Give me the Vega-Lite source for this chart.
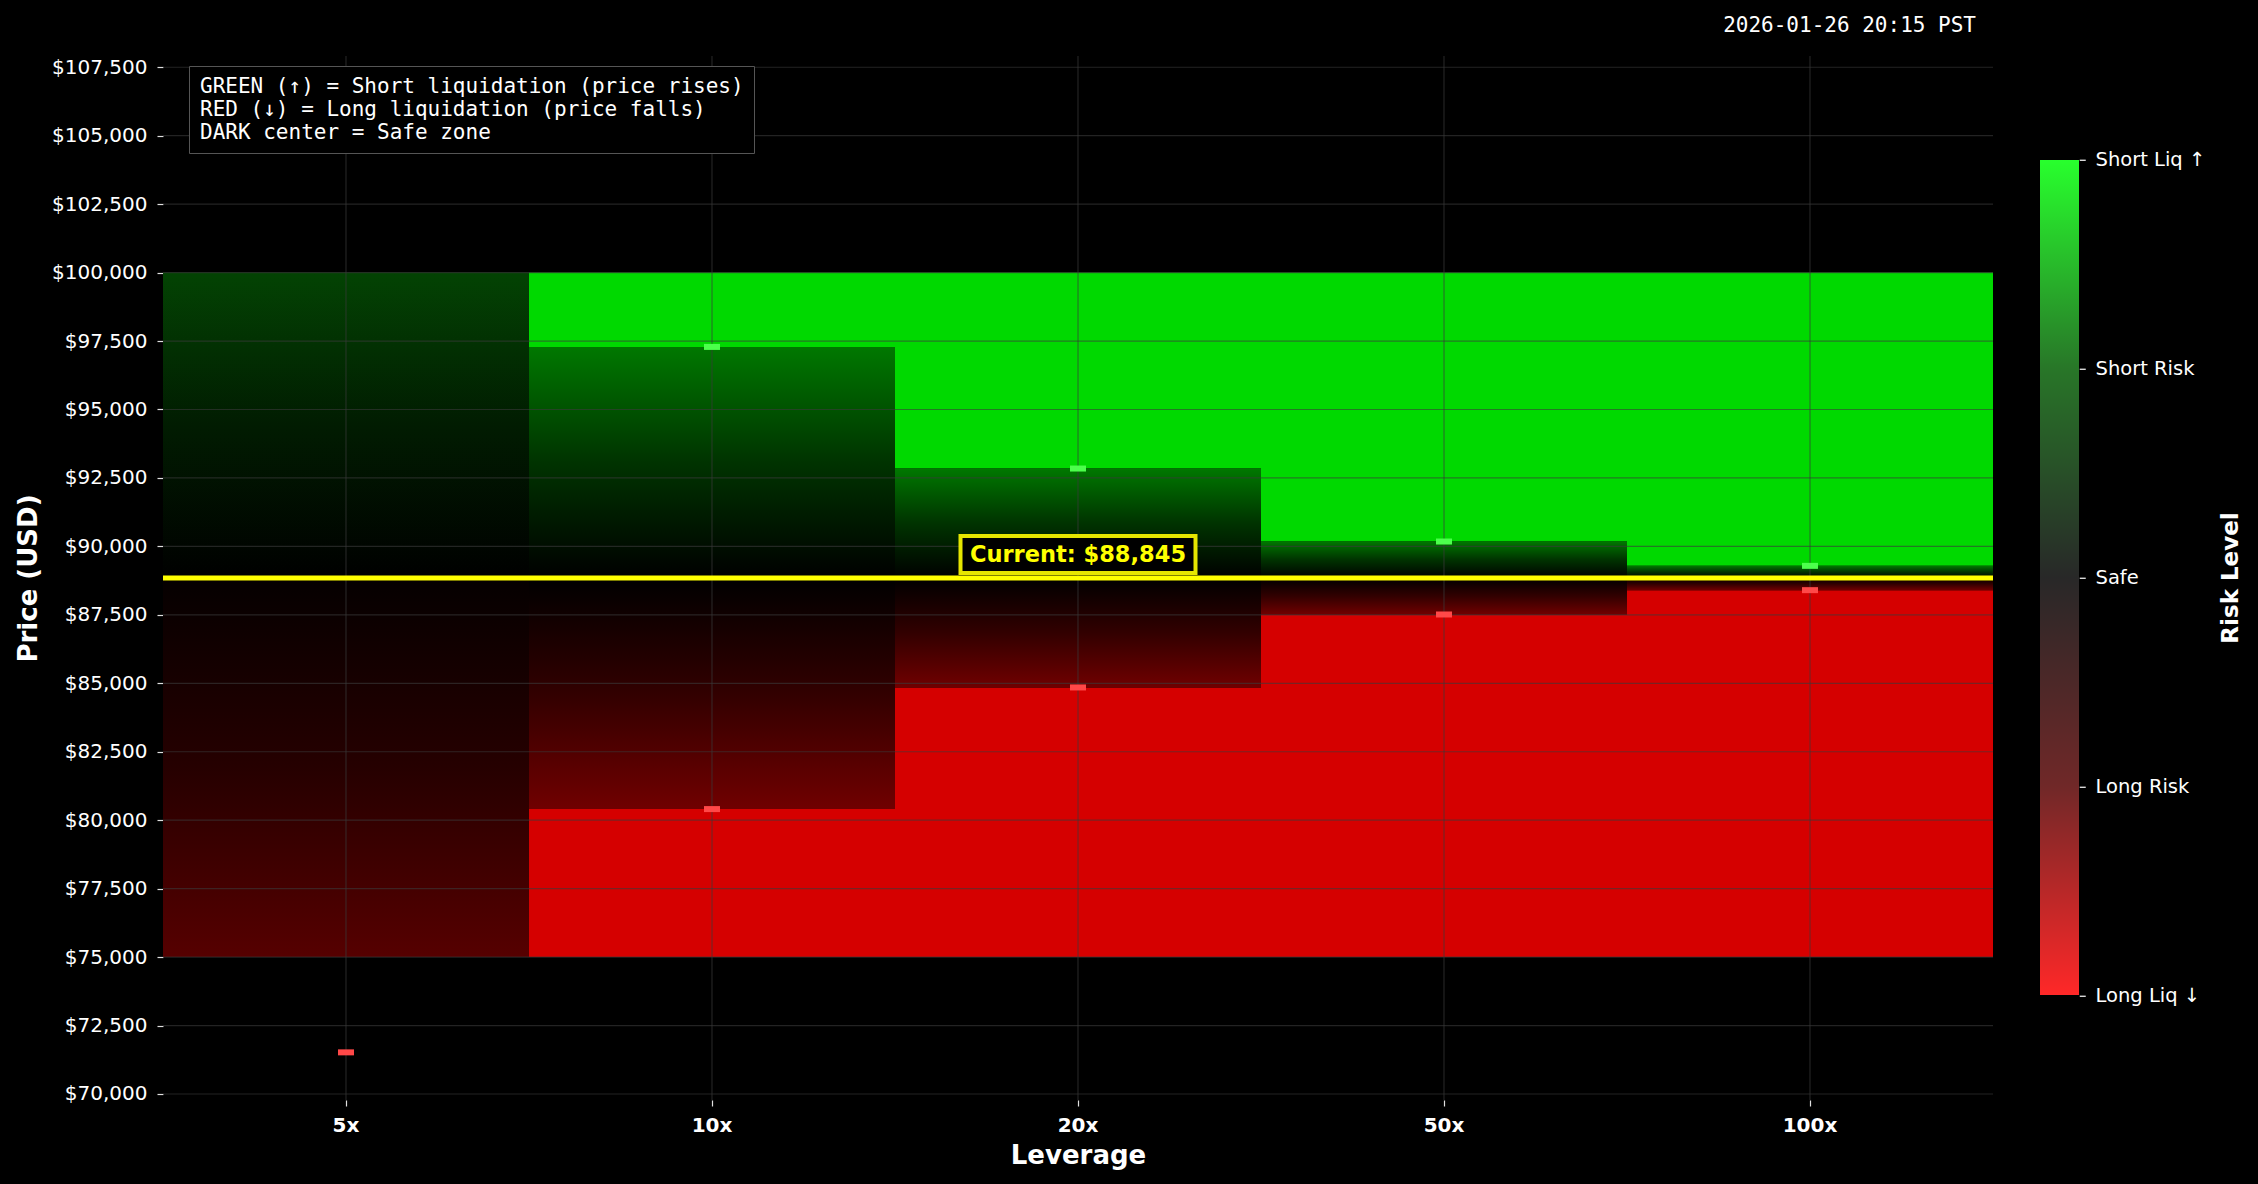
{
  "$schema": "https://vega.github.io/schema/vega-lite/v6.json",
  "width": 1830,
  "height": 1044,
  "autosize": {"type": "none"},
  "padding": {"left": 163, "top": 56, "right": 265, "bottom": 84},
  "background": "#000000",
  "title": {
    "text": "2026-01-26 20:15 PST",
    "anchor": "end",
    "frame": "group",
    "font": "DejaVu Sans Mono",
    "fontSize": 21,
    "fontWeight": "normal",
    "color": "#ffffff",
    "baseline": "alphabetic",
    "offset": 24,
    "dx": -17,
    "dy": 22
  },
  "datasets": {
    "zones": [
      {"lev": "5x", "zone": "short_risk", "price": 88845, "price2": 100000},
      {"lev": "5x", "zone": "long_risk", "price": 75000, "price2": 88845},
      {"lev": "10x", "zone": "short_liq", "price": 97285, "price2": 100000},
      {"lev": "10x", "zone": "short_risk", "price": 88845, "price2": 97285},
      {"lev": "10x", "zone": "long_risk", "price": 80405, "price2": 88845},
      {"lev": "10x", "zone": "long_liq", "price": 75000, "price2": 80405},
      {"lev": "20x", "zone": "short_liq", "price": 92843, "price2": 100000},
      {"lev": "20x", "zone": "short_risk", "price": 88845, "price2": 92843},
      {"lev": "20x", "zone": "long_risk", "price": 84847, "price2": 88845},
      {"lev": "20x", "zone": "long_liq", "price": 75000, "price2": 84847},
      {"lev": "50x", "zone": "short_liq", "price": 90178, "price2": 100000},
      {"lev": "50x", "zone": "short_risk", "price": 88845, "price2": 90178},
      {"lev": "50x", "zone": "long_risk", "price": 87512, "price2": 88845},
      {"lev": "50x", "zone": "long_liq", "price": 75000, "price2": 87512},
      {"lev": "100x", "zone": "short_liq", "price": 89289, "price2": 100000},
      {"lev": "100x", "zone": "short_risk", "price": 88845, "price2": 89289},
      {"lev": "100x", "zone": "long_risk", "price": 88401, "price2": 88845},
      {"lev": "100x", "zone": "long_liq", "price": 75000, "price2": 88401}
    ],
    "liq": [
      {"lev": "5x", "side": "short", "price": 106170},
      {"lev": "5x", "side": "long", "price": 71520},
      {"lev": "10x", "side": "short", "price": 97285},
      {"lev": "10x", "side": "long", "price": 80405},
      {"lev": "20x", "side": "short", "price": 92843},
      {"lev": "20x", "side": "long", "price": 84847},
      {"lev": "50x", "side": "short", "price": 90178},
      {"lev": "50x", "side": "long", "price": 87512},
      {"lev": "100x", "side": "short", "price": 89289},
      {"lev": "100x", "side": "long", "price": 88401}
    ],
    "current": [{"lev": "20x", "price": 88845, "label": "Current: $88,845"}],
    "ygrid": [
      {"price": 70000}, {"price": 72500}, {"price": 75000}, {"price": 77500},
      {"price": 80000}, {"price": 82500}, {"price": 85000}, {"price": 87500},
      {"price": 90000}, {"price": 92500}, {"price": 95000}, {"price": 97500},
      {"price": 100000}, {"price": 102500}, {"price": 105000}, {"price": 107500}
    ],
    "xgrid": [{"lev": "5x"}, {"lev": "10x"}, {"lev": "20x"}, {"lev": "50x"}, {"lev": "100x"}],
    "notes": [
      {"note": "GREEN (↑) = Short liquidation (price rises)"},
      {"note": "RED (↓) = Long liquidation (price falls)"},
      {"note": "DARK center = Safe zone"}
    ],
    "risk": [{"risk": -2}, {"risk": -1}, {"risk": 0}, {"risk": 1}, {"risk": 2}],
    "levels": [
      {"level": "Short Liq ↑"},
      {"level": "Short Risk"},
      {"level": "Safe"},
      {"level": "Long Risk"},
      {"level": "Long Liq ↓"}
    ]
  },
  "layer": [
    {
      "data": {"name": "zones"},
      "transform": [{"filter": "datum.zone === 'short_liq' || datum.zone === 'long_liq'"}],
      "mark": {"type": "rect"},
      "encoding": {
        "x": {
          "field": "lev",
          "type": "nominal",
          "title": "Leverage",
          "scale": {"domain": ["5x", "10x", "20x", "50x", "100x"], "paddingInner": 0, "paddingOuter": 0},
          "axis": {
            "title": "Leverage",
            "labelAngle": 0,
            "labelFontSize": 20,
            "labelFontWeight": "bold",
            "labelPadding": 9,
            "tickSize": 6,
            "titleFontSize": 26,
            "titleFontWeight": "bold",
            "titlePadding": 7
          }
        },
        "y": {
          "field": "price",
          "type": "quantitative",
          "title": "Price (USD)",
          "scale": {"domain": [69780, 107910], "nice": false, "zero": false},
          "axis": {
            "title": "Price (USD)",
            "values": [70000, 72500, 75000, 77500, 80000, 82500, 85000, 87500, 90000, 92500, 95000, 97500, 100000, 102500, 105000, 107500],
            "format": "$,.0f",
            "labelFontSize": 20,
            "labelPadding": 10,
            "tickSize": 6,
            "titleFontSize": 26,
            "titleFontWeight": "bold",
            "titlePadding": 10
          }
        },
        "y2": {"field": "price2"},
        "color": {"condition": {"test": "datum.zone === 'short_liq'", "value": "#00d900"}, "value": "#d50000"}
      }
    },
    {
      "data": {"name": "zones"},
      "transform": [{"filter": "datum.zone === 'short_risk' && datum.lev !== '5x'"}],
      "mark": {
        "type": "rect",
        "color": {
          "gradient": "linear", "x1": 0, "y1": 0, "x2": 0, "y2": 1,
          "stops": [
            {"offset": 0, "color": "#007800"},
            {"offset": 0.5, "color": "#003300"},
            {"offset": 1, "color": "#000000"}
          ]
        }
      },
      "encoding": {
        "x": {"field": "lev", "type": "nominal"},
        "y": {"field": "price", "type": "quantitative"},
        "y2": {"field": "price2"}
      }
    },
    {
      "data": {"name": "zones"},
      "transform": [{"filter": "datum.zone === 'short_risk' && datum.lev === '5x'"}],
      "mark": {
        "type": "rect",
        "color": {
          "gradient": "linear", "x1": 0, "y1": 0, "x2": 0, "y2": 1,
          "stops": [
            {"offset": 0, "color": "#034303"},
            {"offset": 0.5, "color": "#011c01"},
            {"offset": 1, "color": "#000000"}
          ]
        }
      },
      "encoding": {
        "x": {"field": "lev", "type": "nominal"},
        "y": {"field": "price", "type": "quantitative"},
        "y2": {"field": "price2"}
      }
    },
    {
      "data": {"name": "zones"},
      "transform": [{"filter": "datum.zone === 'long_risk' && datum.lev !== '5x'"}],
      "mark": {
        "type": "rect",
        "color": {
          "gradient": "linear", "x1": 0, "y1": 0, "x2": 0, "y2": 1,
          "stops": [
            {"offset": 0, "color": "#000000"},
            {"offset": 0.5, "color": "#320000"},
            {"offset": 1, "color": "#700000"}
          ]
        }
      },
      "encoding": {
        "x": {"field": "lev", "type": "nominal"},
        "y": {"field": "price", "type": "quantitative"},
        "y2": {"field": "price2"}
      }
    },
    {
      "data": {"name": "zones"},
      "transform": [{"filter": "datum.zone === 'long_risk' && datum.lev === '5x'"}],
      "mark": {
        "type": "rect",
        "color": {
          "gradient": "linear", "x1": 0, "y1": 0, "x2": 0, "y2": 1,
          "stops": [
            {"offset": 0, "color": "#050000"},
            {"offset": 0.5, "color": "#260000"},
            {"offset": 1, "color": "#560000"}
          ]
        }
      },
      "encoding": {
        "x": {"field": "lev", "type": "nominal"},
        "y": {"field": "price", "type": "quantitative"},
        "y2": {"field": "price2"}
      }
    },
    {
      "data": {"name": "ygrid"},
      "mark": {"type": "rule", "color": "#3a3a3a", "opacity": 0.6, "strokeWidth": 1.2},
      "encoding": {"y": {"field": "price", "type": "quantitative"}}
    },
    {
      "data": {"name": "xgrid"},
      "mark": {"type": "rule", "color": "#3a3a3a", "opacity": 0.6, "strokeWidth": 1.2},
      "encoding": {"x": {"field": "lev", "type": "nominal"}}
    },
    {
      "data": {"name": "current"},
      "mark": {"type": "rule", "color": "#ffff00", "strokeWidth": 5},
      "encoding": {"y": {"field": "price", "type": "quantitative"}}
    },
    {
      "data": {"name": "liq"},
      "mark": {
        "type": "point",
        "shape": "M-1,-0.375L1,-0.375L1,0.375L-1,0.375Z",
        "size": 256,
        "filled": true,
        "opacity": 1,
        "strokeWidth": 0
      },
      "encoding": {
        "x": {"field": "lev", "type": "nominal"},
        "y": {"field": "price", "type": "quantitative"},
        "color": {"condition": {"test": "datum.side === 'short'", "value": "#4cff4c"}, "value": "#ff4848"}
      }
    },
    {
      "data": {"name": "current"},
      "mark": {
        "type": "point",
        "shape": "M-1,-0.15745L1,-0.15745L1,0.15745L-1,0.15745Z",
        "size": 55225,
        "filled": false,
        "fill": "#000000",
        "fillOpacity": 1,
        "stroke": "#e6e600",
        "strokeWidth": 4,
        "opacity": 1,
        "yOffset": -23.5
      },
      "encoding": {
        "x": {"field": "lev", "type": "nominal"},
        "y": {"field": "price", "type": "quantitative"}
      }
    },
    {
      "data": {"name": "current"},
      "mark": {
        "type": "text",
        "font": "DejaVu Sans",
        "fontSize": 22.5,
        "fontWeight": "bold",
        "color": "#ffff00",
        "baseline": "middle",
        "align": "center",
        "dy": -23.5
      },
      "encoding": {
        "x": {"field": "lev", "type": "nominal"},
        "y": {"field": "price", "type": "quantitative"},
        "text": {"field": "label"}
      }
    },
    {
      "data": {"name": "notes"},
      "mark": {"type": "point", "opacity": 0},
      "encoding": {
        "shape": {
          "field": "note",
          "type": "nominal",
          "scale": {"domain": [
            "GREEN (↑) = Short liquidation (price rises)",
            "RED (↓) = Long liquidation (price falls)",
            "DARK center = Safe zone"
          ]},
          "legend": {
            "orient": "none",
            "legendX": 26,
            "legendY": 10,
            "title": null,
            "padding": 10,
            "rowPadding": 1,
            "fillColor": "#000000",
            "strokeColor": "#555555",
            "symbolSize": 0,
            "symbolOpacity": 0,
            "symbolStrokeWidth": 0,
            "labelOffset": -20,
            "labelFont": "DejaVu Sans Mono",
            "labelFontSize": 21,
            "labelColor": "#ffffff",
            "labelLimit": 1000,
            "zindex": 2,
            "encode": {
              "legend": {"update": {"strokeWidth": {"value": 2}}}
            }
          }
        }
      }
    },
    {
      "data": {"name": "risk"},
      "mark": {"type": "point", "opacity": 0},
      "encoding": {
        "color": {
          "field": "risk",
          "type": "quantitative",
          "scale": {
            "domain": [-2, -1, 0, 1, 2],
            "range": ["#ff2828", "#702828", "#282828", "#287628", "#28ff2d"],
            "interpolate": "rgb"
          },
          "legend": {
            "type": "gradient",
            "direction": "vertical",
            "orient": "none",
            "legendX": 1877,
            "legendY": 104,
            "padding": 0,
            "gradientLength": 835,
            "gradientThickness": 39,
            "gradientStrokeWidth": 0,
            "values": [-2, 2],
            "labelExpr": "''",
            "labelOffset": 0,
            "title": "Risk Level",
            "titleOrient": "right",
            "titleAnchor": "middle",
            "titleBaseline": "top",
            "titleFont": "DejaVu Sans",
            "titleFontSize": 23,
            "titleFontWeight": "bold",
            "titleColor": "#ffffff",
            "titlePadding": 141,
            "encode": {
              "title": {"update": {"angle": {"value": 270}}}
            }
          }
        }
      }
    },
    {
      "data": {"name": "levels"},
      "mark": {"type": "point", "size": 0, "filled": false},
      "encoding": {
        "opacity": {
          "field": "level",
          "type": "ordinal",
          "scale": {
            "domain": ["Short Liq ↑", "Short Risk", "Safe", "Long Risk", "Long Liq ↓"],
            "range": [1, 1, 1, 1, 1]
          },
          "legend": {
            "orient": "none",
            "direction": "vertical",
            "legendX": 1910,
            "legendY": 94.5,
            "padding": 0,
            "rowPadding": 188,
            "symbolType": "stroke",
            "symbolSize": 36,
            "symbolStrokeColor": "#ffffff",
            "symbolStrokeWidth": 1.2,
            "symbolFillColor": "transparent",
            "labelFont": "DejaVu Sans",
            "labelFontSize": 19.5,
            "labelColor": "#ffffff",
            "labelOffset": 3,
            "labelLimit": 400,
            "title": null,
            "encode": {
              "symbols": {"update": {"stroke": {"value": "#ffffff"}, "opacity": {"value": 1}, "strokeWidth": {"value": 1.2}}}
            }
          }
        }
      }
    }
  ],
  "config": {
    "background": "#000000",
    "view": {"stroke": null},
    "font": "DejaVu Sans",
    "axis": {
      "labelColor": "#ffffff",
      "titleColor": "#ffffff",
      "tickColor": "#e0e0e0",
      "tickWidth": 1.2,
      "domain": false,
      "grid": false
    }
  }
}
